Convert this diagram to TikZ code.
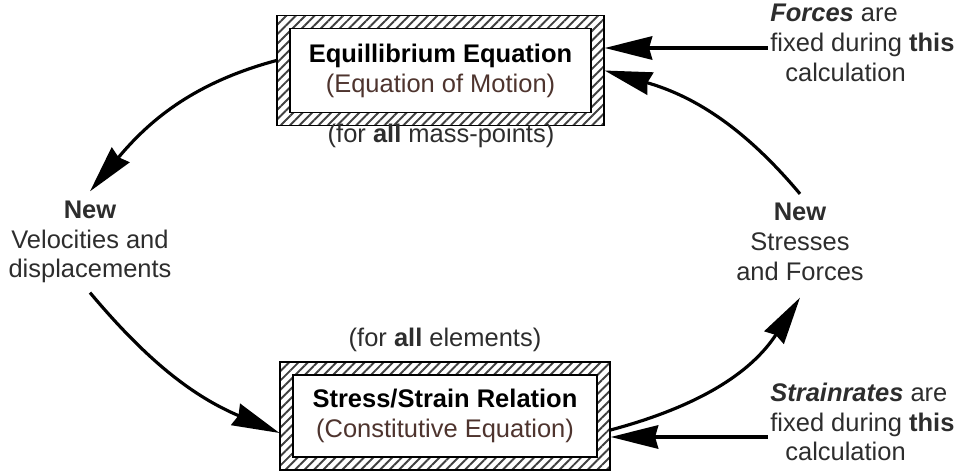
\documentclass[tikz,border=0pt]{standalone}
\usepackage{fontspec}
\setmainfont{Liberation Sans}
\usetikzlibrary{positioning,arrows.meta,patterns.meta}
\definecolor{txt}{RGB}{45,45,45}
\definecolor{subtxt}{RGB}{78,52,46}
\tikzset{
  eqbox/.style={draw, line width=0.6pt, minimum width=6.54cm, minimum height=2.2cm,
                align=center, inner sep=0pt,
                path picture={
                  \fill[pattern={Lines[angle=45,distance=3.8pt,line width=1.1pt]},
                        pattern color=black!75]
                    (path picture bounding box.south west) rectangle
                    (path picture bounding box.north east);
                  \filldraw[fill=white, line width=0.6pt]
                    ([shift={(0.26,0.26)}]path picture bounding box.south west) rectangle
                    ([shift={(-0.26,-0.26)}]path picture bounding box.north east);
                }},
  lbl/.style={align=center, text=txt, inner sep=0.18cm},
  note/.style={align=left, text=txt, inner sep=0.05cm, anchor=west},
  cyc/.style={-{Stealth[length=0.95cm,width=0.46cm,inset=0.06cm]}, line width=1.8pt},
  fixarr/.style={-{Stealth[length=0.95cm,width=0.46cm,inset=0.06cm]}, line width=2.6pt},
}
\begin{document}
\begin{tikzpicture}[font=\fontsize{14.5}{17}\selectfont]
    \useasboundingbox (0,0) rectangle (19.28,9.44);
    \node[eqbox] (eqm) at (8.81,8.03)
      {\textbf{Equillibrium Equation}\\\textcolor{subtxt}{(Equation of Motion)}};
    \node[text=txt] (allmp) at (8.82,6.72) {(for \textbf{all} mass-points)};
    \node[eqbox, minimum width=6.6cm, minimum height=2.16cm] (ssr) at (8.9,1.12)
      {\textbf{Stress/Strain Relation}\\\textcolor{subtxt}{(Constitutive Equation)}};
    \node[text=txt] (allel) at (8.9,2.64) {(for \textbf{all} elements)};

    \node[lbl] (vel) at (1.8,4.6) {\textbf{New}\\Velocities and\\displacements};
    \node[lbl] (str) at (16.0,4.6) {\textbf{New}\\Stresses\\and Forces};

    \node[note] (fnote) at (15.35,8.59)
      {\textbf{\textit{Forces}} are\\fixed during \textbf{this}\\\hspace*{0.3cm}calculation};
    \node[note] (snote) at (15.35,1.0)
      {\textbf{\textit{Strainrates}} are\\fixed during \textbf{this}\\\hspace*{0.3cm}calculation};

    \coordinate (fa) at ([yshift=-0.11cm]fnote.west);
    \coordinate (sa) at ([yshift=-0.3cm]snote.west);
    \draw[fixarr] (fa) -- (fa -| eqm.east);
    \draw[fixarr] (sa) -- (sa -| ssr.east);

    \draw[cyc] ([yshift=0.2cm]eqm.west) to[out=195, in=50] (vel.north);
    \draw[cyc] (vel.south) to[out=-50, in=157] ([yshift=-0.34cm]ssr.west);
    \draw[cyc] ([yshift=-0.28cm]ssr.east) to[out=15, in=237] ([yshift=-0.15cm]str.south);
    \draw[cyc] (str.north) to[out=130, in=-16] (eqm.east);
\end{tikzpicture}
\end{document}
